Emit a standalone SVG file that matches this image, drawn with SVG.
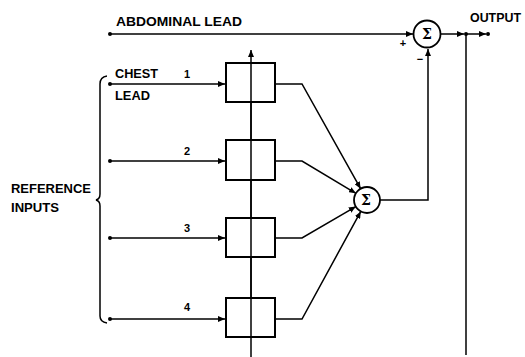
<svg xmlns="http://www.w3.org/2000/svg" width="525" height="357" viewBox="0 0 525 357">
<style>
.ln{stroke:#000;stroke-width:1.5;fill:none}
.box{stroke:#000;stroke-width:2;fill:#fff}
.sum{stroke:#000;stroke-width:1.8;fill:#fff}
.t{font-family:"Liberation Sans",Arial,sans-serif;font-size:12px;font-weight:bold;fill:#000}
.n{font-family:"Liberation Sans",Arial,sans-serif;font-size:11px;font-weight:bold;fill:#000}
.sig{font-family:"DejaVu Serif","Liberation Serif",serif;font-size:14px;font-weight:bold;fill:#000}
</style>
<defs>
<marker id="ar" markerWidth="8" markerHeight="6" refX="7" refY="3" orient="auto" markerUnits="userSpaceOnUse">
<path d="M0,0 L7,3 L0,6 Z" fill="#000"/>
</marker>
</defs>
<rect width="525" height="357" fill="#fff"/>
<g id="connectors">
<line class="ln" x1="110" y1="34" x2="413" y2="34" marker-end="url(#ar)"/>
<circle cx="110" cy="34" r="2" fill="#000"/>
<line class="ln" x1="441" y1="34" x2="464" y2="34" marker-end="url(#ar)"/>
<line class="ln" x1="466" y1="34" x2="486" y2="34" marker-end="url(#ar)"/>
<circle cx="466" cy="34" r="2" fill="#000"/>
<circle cx="488" cy="34" r="2" fill="#000"/>
<line class="ln" x1="466" y1="34" x2="466" y2="355"/>
<polyline class="ln" points="380,200 428,200 428,49" marker-end="url(#ar)"/>
<line class="ln" x1="251" y1="357" x2="251" y2="50" marker-end="url(#ar)"/>
<line class="ln" x1="110" y1="84" x2="225" y2="84" marker-end="url(#ar)"/>
<line class="ln" x1="110" y1="161" x2="225" y2="161" marker-end="url(#ar)"/>
<line class="ln" x1="110" y1="238" x2="225" y2="238" marker-end="url(#ar)"/>
<line class="ln" x1="110" y1="319" x2="225" y2="319" marker-end="url(#ar)"/>
<circle cx="110" cy="84" r="2" fill="#000"/>
<circle cx="110" cy="161" r="2" fill="#000"/>
<circle cx="110" cy="238" r="2" fill="#000"/>
<circle cx="110" cy="319" r="2" fill="#000"/>
<polyline class="ln" points="275,84 302,84 360.6,188.7" marker-end="url(#ar)"/>
<polyline class="ln" points="275,161 302,161 355.9,193.3" marker-end="url(#ar)"/>
<polyline class="ln" points="275,238 302,238 355.8,206.6" marker-end="url(#ar)"/>
<polyline class="ln" points="275,319 302,319 360.8,211.4" marker-end="url(#ar)"/>
<path class="ln" stroke-width="1.2" d="M107,76 Q100,77 100,84 L100,194 Q100,199 96,200 Q100,201 100,206 L100,316 Q100,322 107,323"/>
</g>
<g id="box1"><rect class="box" x="226" y="63" width="49" height="39"/></g>
<g id="box2"><rect class="box" x="226" y="140" width="49" height="40"/></g>
<g id="box3"><rect class="box" x="226" y="218" width="49" height="39"/></g>
<g id="box4"><rect class="box" x="226" y="298" width="49" height="39"/></g>
<g id="vline-over"><line class="ln" x1="251" y1="63" x2="251" y2="337"/></g>
<g id="sum-main">
<circle class="sum" cx="427" cy="34" r="13.5"/>
<text class="sig" x="427" y="39" text-anchor="middle">Σ</text>
</g>
<g id="sum-ref">
<circle class="sum" cx="367" cy="200" r="13"/>
<text class="sig" x="366" y="205" text-anchor="middle" font-size="12">Σ</text>
</g>
<g id="labels">
<text class="t" x="116" y="26" textLength="126" lengthAdjust="spacingAndGlyphs">ABDOMINAL LEAD</text>
<text class="t" x="470" y="22" textLength="51" lengthAdjust="spacingAndGlyphs">OUTPUT</text>
<text class="t" x="115" y="78" textLength="43" lengthAdjust="spacingAndGlyphs">CHEST</text>
<text class="t" x="115" y="100" textLength="35" lengthAdjust="spacingAndGlyphs">LEAD</text>
<text class="t" x="11" y="193" textLength="80" lengthAdjust="spacingAndGlyphs">REFERENCE</text>
<text class="t" x="11" y="212" textLength="48" lengthAdjust="spacingAndGlyphs">INPUTS</text>
<text class="n" x="187" y="78" text-anchor="middle">1</text>
<text class="n" x="187" y="155" text-anchor="middle">2</text>
<text class="n" x="187" y="232" text-anchor="middle">3</text>
<text class="n" x="187" y="311" text-anchor="middle">4</text>
<text class="n" x="403" y="47" text-anchor="middle">+</text>
<text class="n" x="420" y="63" text-anchor="middle" font-size="13">−</text>
</g>
</svg>
